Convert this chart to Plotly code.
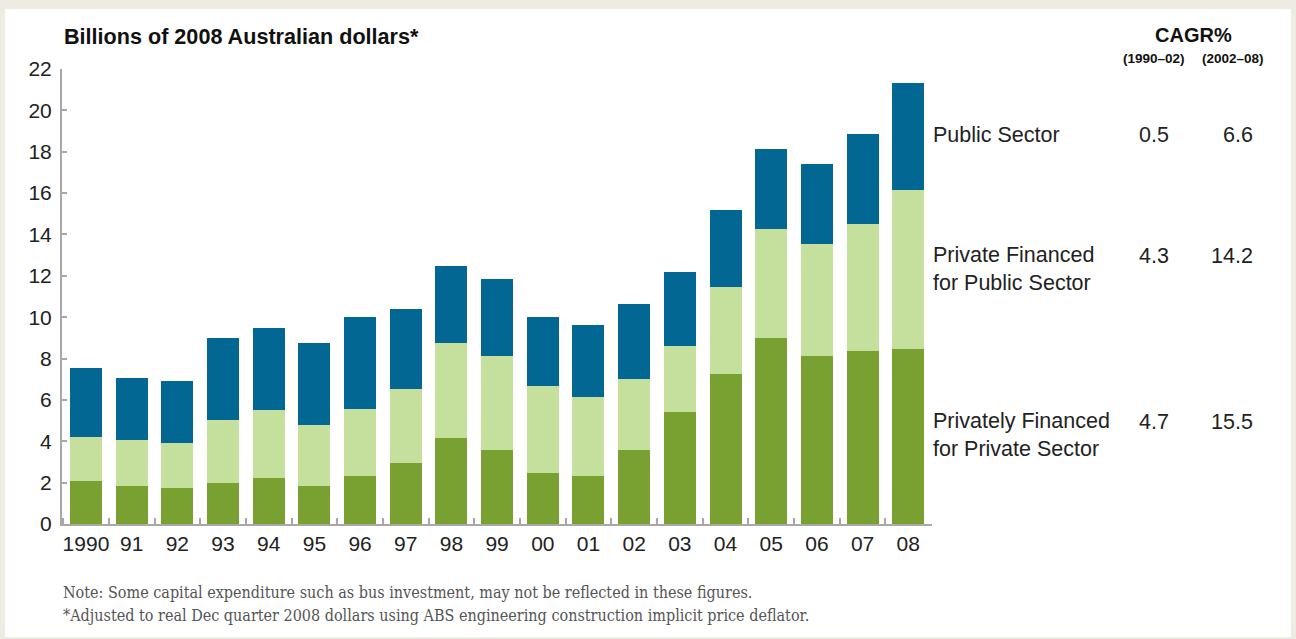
import plotly.graph_objects as go

years = ["1990", "91", "92", "93", "94", "95", "96", "97", "98", "99",
         "00", "01", "02", "03", "04", "05", "06", "07", "08"]

# Stacked values (billions of 2008 AUD)
private_for_private = [2.07, 1.83, 1.73, 1.97, 2.21, 1.83, 2.31, 2.94, 4.15, 3.57,
                       2.46, 2.31, 3.57, 5.41, 7.25, 8.99, 8.12, 8.36, 8.45]
private_for_public = [2.13, 2.22, 2.18, 3.05, 3.30, 2.95, 3.24, 3.58, 4.60, 4.55,
                      4.21, 3.83, 3.43, 3.19, 4.20, 5.27, 5.41, 6.14, 7.70]
public_sector = [3.34, 3.01, 3.00, 3.97, 3.97, 3.97, 4.45, 3.87, 3.72, 3.73,
                 3.33, 3.47, 3.64, 3.58, 3.73, 3.88, 3.89, 4.37, 5.19]

series_names = ["Privately Financed<br>for Private Sector",
                "Private Financed<br>for Public Sector",
                "Public Sector"]
series_colors = ["#78a131", "#c5df9c", "#026893"]
cagr_1990_02 = ["4.7", "4.3", "0.5"]
cagr_2002_08 = ["15.5", "14.2", "6.6"]
cagr_periods = ["(1990–02)", "(2002–08)"]

y_ticks = [0, 2, 4, 6, 8, 10, 12, 14, 16, 18, 20, 22]

SANS = "Liberation Sans, Arial, sans-serif"
SERIF = "DejaVu Serif Condensed, Liberation Serif, serif"

fig = go.Figure()
for name, vals, col in zip(series_names,
                           [private_for_private, private_for_public, public_sector],
                           series_colors):
    fig.add_trace(go.Bar(x=years, y=vals, name=name, marker_color=col,
                         marker_line_width=0, showlegend=False))

W, H = 1296, 639
L, R, T, B = 62, 364, 69, 115
pw, ph = W - L - R, H - T - B


def px(x):
    return (x - L) / pw


def py(y):
    return (H - B - y) / ph


# white panel on beige page
fig.add_shape(type="rect", xref="paper", yref="paper", layer="below",
              x0=px(5), x1=px(1291), y0=py(637), y1=py(9),
              fillcolor="white", line_width=0)

ann = []
ann.append(dict(text="<b>Billions of 2008 Australian dollars*</b>", x=px(62), y=py(36),
                xanchor="left", yanchor="middle", font=dict(size=21.6, color="#111", family=SANS)))
ann.append(dict(text="<b>CAGR%</b>", x=px(1193), y=py(35), xanchor="center", yanchor="middle",
                font=dict(size=20, color="#111", family=SANS)))
for txt, cx in zip(cagr_periods, [1154, 1233]):
    ann.append(dict(text="<b>" + txt + "</b>", x=px(cx), y=py(58), xanchor="center",
                    yanchor="middle", font=dict(size=13.5, color="#111", family=SANS)))

label_y = [435, 269, 135]
num_y = [422, 256, 135]
for i in range(3):
    ann.append(dict(text=series_names[i], x=px(931), y=py(label_y[i]), xanchor="left",
                    yanchor="middle", align="left",
                    font=dict(size=21.5, color="#222", family=SANS)))
    ann.append(dict(text=cagr_1990_02[i], x=px(1171), y=py(num_y[i]), xanchor="right",
                    yanchor="middle", font=dict(size=21.5, color="#222", family=SANS)))
    ann.append(dict(text=cagr_2002_08[i], x=px(1255), y=py(num_y[i]), xanchor="right",
                    yanchor="middle", font=dict(size=21.5, color="#222", family=SANS)))

ann.append(dict(text="Note: Some capital expenditure such as bus investment, may not be reflected in these figures.",
                x=px(61), y=py(592), xanchor="left", yanchor="middle",
                font=dict(size=16, color="#555", family=SERIF)))
ann.append(dict(text="*Adjusted to real Dec quarter 2008 dollars using ABS engineering construction implicit price deflator.",
                x=px(61), y=py(615), xanchor="left", yanchor="middle",
                font=dict(size=16, color="#555", family=SERIF)))

for a in ann:
    a.update(xref="paper", yref="paper", showarrow=False)

fig.update_layout(
    width=W, height=H,
    margin=dict(l=L, r=R, t=T, b=B),
    paper_bgcolor="#eeebe3",
    plot_bgcolor="rgba(0,0,0,0)",
    barmode="stack",
    bargap=0.30,
    annotations=ann,
    font=dict(family=SANS, color="#222"),
)
fig.update_xaxes(
    type="category", range=[-0.525, 18.52], tickangle=0,
    showline=True, linecolor="#a8a8a8", linewidth=2,
    ticks="inside", tickson="boundaries", ticklen=6, tickwidth=1.5, tickcolor="#a8a8a8",
    tickfont=dict(size=21, color="#222", family=SANS),
    showgrid=False, zeroline=False,
)
fig.update_yaxes(
    range=[0, 22], tickvals=y_ticks,
    showline=True, linecolor="#a8a8a8", linewidth=2,
    ticks="inside", ticklen=5, tickwidth=1.5, tickcolor="#a8a8a8",
    tickfont=dict(size=21, color="#222", family=SANS),
    showgrid=False, zeroline=False, ticklabelstandoff=4,
)

fig.write_html("out.html",
               config={"displayModeBar": False},
               post_script="document.body.style.margin='0';"
                           "document.body.style.background='#eeebe3';")
